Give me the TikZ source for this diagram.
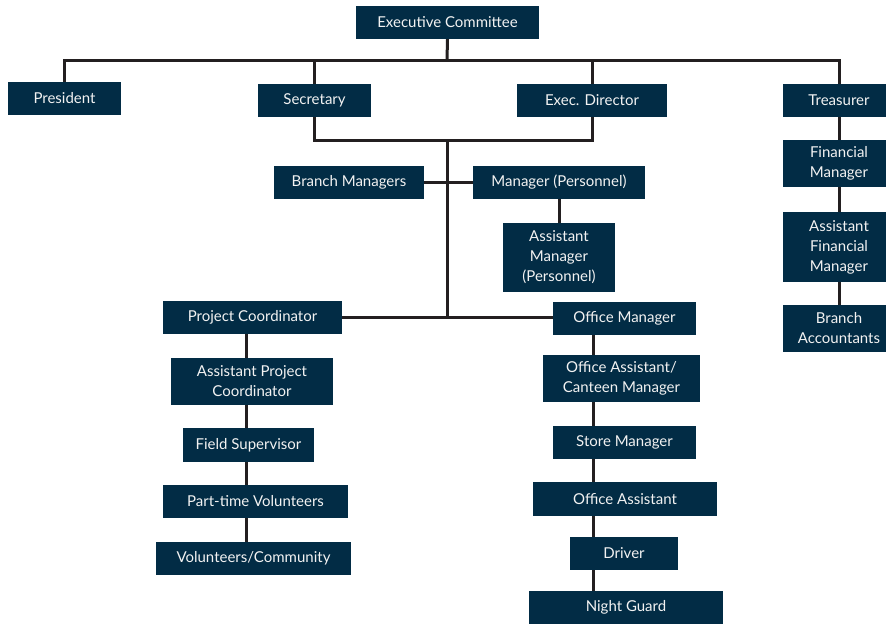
\documentclass[tikz,border=0pt]{standalone}
\usepackage{fontspec}
\setmainfont{Lato}
\definecolor{navy}{HTML}{022C45}
\definecolor{ln}{HTML}{231F20}
\definecolor{txt}{HTML}{F2F2F2}
\begin{document}
\begin{tikzpicture}[x=1pt,y=-1pt,
  box/.style={fill=navy,text=txt,inner sep=0pt,align=center,font=\fontsize{15}{20}\selectfont},
  conn/.style={draw=ln,line width=3pt}]
\clip (0,0) rectangle (886,624);
\fill[white] (0,0) rectangle (886,624);
% nodes
\node[box,minimum width=183,minimum height=33] (ec) at (447.5,22.5) {Executive Committee};
\node[box,minimum width=113,minimum height=33] (pres) at (64.5,98.5) {President};
\node[box,minimum width=113,minimum height=33] (sec) at (314.5,100.5) {Secretary};
\node[box,minimum width=150,minimum height=33] (exd) at (592,100.5) {Exec. Director};
\node[box,minimum width=112,minimum height=33] (treas) at (839,100.5) {Treasurer};
\node[box,minimum width=150,minimum height=33] (bm) at (349,182.5) {Branch Managers};
\node[box,minimum width=172,minimum height=33] (mp) at (559,182.5) {Manager (Personnel)};
\node[box,minimum width=112,minimum height=69] (amp) at (559,257.5) {Assistant\\Manager\\(Personnel)};
\node[box,minimum width=179,minimum height=33] (pc) at (252.5,317.5) {Project Coordinator};
\node[box,minimum width=143,minimum height=33] (om) at (624.5,318.5) {Office Manager};
\node[box,minimum width=162,minimum height=47] (apc) at (252,381.5) {Assistant Project\\Coordinator};
\node[box,minimum width=131,minimum height=34] (fs) at (248.5,445) {Field Supervisor};
\node[box,minimum width=185,minimum height=33] (ptv) at (255.5,501.5) {Part-time Volunteers};
\node[box,minimum width=195,minimum height=33] (vc) at (253.5,558.5) {Volunteers/Community};
\node[box,minimum width=157,minimum height=47] (oacm) at (621.5,378.5) {Office Assistant/\\Canteen Manager};
\node[box,minimum width=143,minimum height=33] (sm) at (624.5,442.5) {Store Manager};
\node[box,minimum width=184,minimum height=34] (oa) at (625,499) {Office Assistant};
\node[box,minimum width=108,minimum height=33] (dr) at (624,553.5) {Driver};
\node[box,minimum width=194,minimum height=33] (ng) at (626,607.5) {Night Guard};
\node[box,minimum width=112,minimum height=47] (fm) at (839,163.5) {Financial\\Manager};
\node[box,minimum width=112,minimum height=70] (afm) at (839,247) {Assistant\\Financial\\Manager};
\node[box,minimum width=112,minimum height=47] (ba) at (839,328.5) {Branch\\Accountants};
% bus coordinates
\coordinate (top) at (447,60);
\coordinate (mid) at (447,140);
\coordinate (low) at (447,318);
\coordinate (lc) at (246,0);
\coordinate (rc) at (593,0);
% connectors
\draw[conn] (ec.south) -- (top);
\draw[conn] (pres.north) |- (treas.north |- top) -- (treas.north);
\draw[conn] (sec.north) -- (sec.north |- top);
\draw[conn] (exd.north) -- (exd.north |- top);
\draw[conn] (sec.south) |- (mid) -| (exd.south);
\draw[conn] (mid) -- (low);
\draw[conn] (bm.east) -- (mp.west);
\draw[conn] (pc.east) -- (pc.east -| om.west);
\draw[conn] (mp.south) -- (amp.north);
\draw[conn] (pc.south -| lc) -- (apc.north -| lc);
\draw[conn] (apc.south -| lc) -- (fs.north -| lc);
\draw[conn] (fs.south -| lc) -- (ptv.north -| lc);
\draw[conn] (ptv.south -| lc) -- (vc.north -| lc);
\draw[conn] (om.south -| rc) -- (oacm.north -| rc);
\draw[conn] (oacm.south -| rc) -- (sm.north -| rc);
\draw[conn] (sm.south -| rc) -- (oa.north -| rc);
\draw[conn] (oa.south -| rc) -- (dr.north -| rc);
\draw[conn] (dr.south -| rc) -- (ng.north -| rc);
\draw[conn] (treas.south) -- (fm.north);
\draw[conn] (fm.south) -- (afm.north);
\draw[conn] (afm.south) -- (ba.north);
\end{tikzpicture}
\end{document}
